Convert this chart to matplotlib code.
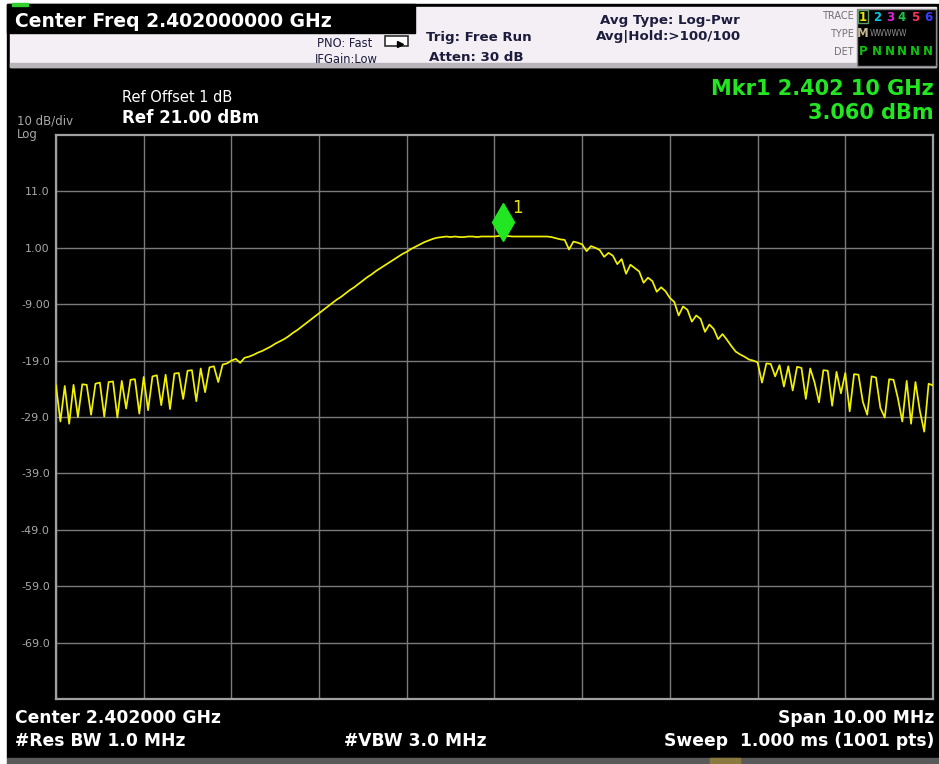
import matplotlib
matplotlib.use('Agg')
import matplotlib.pyplot as plt
import numpy as np
from matplotlib.patches import Rectangle
from matplotlib import transforms

# ---- trace data: 201 samples, 0.05 MHz apart, 2.397 -> 2.407 GHz ----
f_start = 2.397        # GHz
f_step = 0.00005       # GHz
trace_dbm = [
    -23.4, -29.8, -23.5, -30.2, -23.3, -29.0, -23.2, -23.3, -28.6, -23.1,
    -22.9, -28.9, -22.8, -22.7, -29.1, -22.6, -27.5, -22.4, -22.3, -28.4,
    -21.9, -27.8, -21.8, -21.6, -26.9, -21.5, -27.6, -21.3, -21.2, -25.8,
    -20.8, -20.7, -26.2, -20.4, -24.6, -20.2, -20.0, -22.8, -19.7, -19.5,
    -19.0, -18.7, -19.4, -18.5, -18.3, -18.0, -17.6, -17.3, -16.9, -16.5,
    -16.0, -15.6, -15.2, -14.7, -14.1, -13.6, -13.0, -12.4, -11.8, -11.2,
    -10.6, -10.0, -9.4, -8.8, -8.2, -7.7, -7.1, -6.5, -6.0, -5.4,
    -4.8, -4.2, -3.7, -3.1, -2.6, -2.1, -1.6, -1.1, -0.6, -0.1,
    0.3, 0.8, 1.2, 1.6, 2.0, 2.3, 2.6, 2.8, 2.9, 3.0,
    2.9, 3.0, 2.9, 2.9, 3.0, 3.0, 2.9, 3.0, 3.0, 3.0,
    3.0, 3.1, 3.06, 3.1, 3.0, 3.0, 3.0, 3.0, 3.0, 3.0,
    3.0, 3.0, 3.0, 2.9, 2.7, 2.5, 2.4, 0.7, 2.1, 1.9,
    1.6, 0.4, 1.3, 1.0, 0.6, -0.6, 0.1, -0.4, -1.9, -1.0,
    -3.6, -2.0, -2.6, -3.2, -5.2, -4.3, -4.9, -6.8, -6.0, -6.7,
    -7.9, -8.6, -11.0, -9.4, -10.0, -12.1, -11.0, -11.6, -13.9, -12.6,
    -13.4, -15.2, -14.3, -15.3, -16.4, -17.4, -17.9, -18.3, -18.8, -19.0,
    -19.3, -22.9, -19.5, -19.6, -21.8, -19.8, -23.6, -20.0, -24.3, -20.1,
    -20.3, -25.8, -20.4, -22.9, -26.4, -20.7, -20.8, -27.0, -21.0, -24.8,
    -21.2, -28.0, -21.4, -21.5, -26.3, -28.6, -21.8, -22.0, -27.4, -29.1,
    -22.3, -22.4, -25.7, -29.8, -22.6, -30.2, -22.8, -27.9, -31.6, -23.1,
    -23.4,
]

freq_grid = [2.397, 2.398, 2.399, 2.400, 2.401, 2.402,
             2.403, 2.404, 2.405, 2.406, 2.407]
level_ticks = [11, 1, -9, -19, -29, -39, -49, -59, -69]
level_labels = ['11.0', '1.00', '-9.00', '-19.0', '-29.0',
                '-39.0', '-49.0', '-59.0', '-69.0']
ref_level = 21.0
bottom_level = -79.0

mkr_freq = 2.4021
mkr_dbm = 3.06

trace_nums = ['1', '2', '3', '4', '5', '6']
trace_cols = ['#e6e600', '#00c8e0', '#e020e0', '#20c040', '#ff3060', '#3c3cff']

freq = f_start + f_step * np.arange(len(trace_dbm))

W, H = 939, 764
fig = plt.figure(figsize=(W / 100, H / 100), dpi=100)
fig.patch.set_facecolor('white')

# background layer in pixel coords
bg = fig.add_axes([0, 0, 1, 1])
bg.set_xlim(0, W)
bg.set_ylim(H, 0)
bg.axis('off')

bg.add_patch(Rectangle((7, 4), W - 7, 754, color='black', zorder=0))
bg.add_patch(Rectangle((10, 7), 926, 60, color='#f3eff5', zorder=1))
bg.add_patch(Rectangle((10, 63), 926, 4, color='#b8b4ba', zorder=1))
bg.add_patch(Rectangle((7, 4), 408, 29, color='black', zorder=2))
bg.add_patch(Rectangle((12, 3), 16, 3, color='#30d030', zorder=2))
bg.add_patch(Rectangle((7, 758), W - 7, 6, color='#5a5a5a', zorder=1))
bg.add_patch(Rectangle((710, 758), 30, 6, color='#8a7a40', zorder=2))

# trace legend box
bg.add_patch(Rectangle((857, 9), 79, 57, facecolor='black', edgecolor='#888888', lw=1, zorder=2))
bg.add_patch(Rectangle((858, 10), 10, 13, facecolor='none', edgecolor='#60a060', lw=1, zorder=3))
tx = [863, 877, 890, 902, 915, 928]
for x, s, c in zip(tx, trace_nums, trace_cols):
    bg.text(x, 21, s, color=c, fontsize=8.5, fontweight='bold', ha='center', va='baseline', zorder=4)
bg.text(863, 37, 'M', color='#c8b890', fontsize=8.5, fontweight='bold', ha='center', va='baseline', zorder=4)
bg.text(870, 36, 'WWWWW', color='#909090', fontsize=5.5, ha='left', va='baseline', zorder=4)
for x, s in zip(tx, ['P', 'N', 'N', 'N', 'N', 'N']):
    bg.text(x, 55, s, color='#10c010', fontsize=8.5, fontweight='bold', ha='center', va='baseline', zorder=4)
for y, s in [(19, 'TRACE'), (37, 'TYPE'), (55, 'DET')]:
    bg.text(854, y, s, color='#707070', fontsize=7, ha='right', va='baseline', zorder=4)

navy = '#1c1c3c'
bg.text(15, 27, 'Center Freq 2.402000000 GHz', color='white', fontsize=13.5,
        fontweight='bold', va='baseline', zorder=4)
bg.text(372, 47, 'PNO: Fast', color=navy, fontsize=8.3, ha='right', va='baseline', zorder=4)
bg.text(378, 63, 'IFGain:Low', color=navy, fontsize=8.3, ha='right', va='baseline', zorder=4)
bg.add_patch(Rectangle((385, 36), 23, 10, facecolor='white', edgecolor='#303030', lw=1.2, zorder=4))
bg.plot([400], [44], marker='>', ms=4, color='black', zorder=5)
bg.text(426, 41, 'Trig: Free Run', color=navy, fontsize=9.6, fontweight='bold', va='baseline', zorder=4)
bg.text(429, 61, 'Atten: 30 dB', color=navy, fontsize=9.6, fontweight='bold', va='baseline', zorder=4)
bg.text(600, 24, 'Avg Type: Log-Pwr', color=navy, fontsize=9.6, fontweight='bold', va='baseline', zorder=4)
bg.text(596, 40, 'Avg|Hold:>100/100', color=navy, fontsize=9.6, fontweight='bold', va='baseline', zorder=4)

green = '#22e622'
bg.text(934, 95, 'Mkr1 2.402 10 GHz', color=green, fontsize=15, fontweight='bold',
        ha='right', va='baseline', zorder=4)
bg.text(934, 119, '3.060 dBm', color=green, fontsize=15, fontweight='bold',
        ha='right', va='baseline', zorder=4)
bg.text(122, 102, 'Ref Offset 1 dB', color='white', fontsize=10.5, va='baseline', zorder=4)
bg.text(122, 123, 'Ref 21.00 dBm', color='white', fontsize=12, fontweight='bold', va='baseline', zorder=4)
bg.text(17, 125, '10 dB/div', color='#a8a8a8', fontsize=8.5, va='baseline', zorder=4)
bg.text(17, 138, 'Log', color='#a8a8a8', fontsize=8.5, va='baseline', zorder=4)

bg.text(15, 723, 'Center 2.402000 GHz', color='white', fontsize=12.3, fontweight='bold', va='baseline', zorder=4)
bg.text(15, 746, '#Res BW 1.0 MHz', color='white', fontsize=12.3, fontweight='bold', va='baseline', zorder=4)
bg.text(344, 746, '#VBW 3.0 MHz', color='white', fontsize=12.3, fontweight='bold', va='baseline', zorder=4)
bg.text(934, 723, 'Span 10.00 MHz', color='white', fontsize=12.3, fontweight='bold',
        ha='right', va='baseline', zorder=4)
bg.text(934, 746, 'Sweep  1.000 ms (1001 pts)', color='white', fontsize=12.3, fontweight='bold',
        ha='right', va='baseline', zorder=4)

# ---- the graticule ----
ax = fig.add_axes([56 / W, (H - 699) / H, 877 / W, 564 / H])
ax.set_facecolor('black')
ax.set_xlim(freq_grid[0], freq_grid[-1])
ax.set_ylim(bottom_level, ref_level)
ax.set_xticks(freq_grid)
ax.set_xticklabels([])
ax.set_yticks(level_ticks, level_labels)
ax.tick_params(axis='both', length=0)
ax.tick_params(axis='y', colors='#a8a8a8', labelsize=8, pad=4.5)
ax.grid(True, color='#7a7a7a', lw=1.0)
for sp in ax.spines.values():
    sp.set_color('#a0a0a0')
    sp.set_linewidth(1.6)

ax.plot(freq, trace_dbm, color='#f2f200', lw=1.25, zorder=3)

mk_tr = transforms.offset_copy(ax.transData, fig=fig, x=0, y=14, units='dots')
ax.plot([mkr_freq], [mkr_dbm], marker='d', ms=19, color=green, mec=green,
        transform=mk_tr, zorder=5, clip_on=False)
ax.annotate('1', (mkr_freq, mkr_dbm), xytext=(9, 23), textcoords='offset pixels',
            color='#e6e600', fontsize=12, ha='left', va='baseline', zorder=5)

fig.savefig('out.png', dpi=100, facecolor=fig.get_facecolor())
